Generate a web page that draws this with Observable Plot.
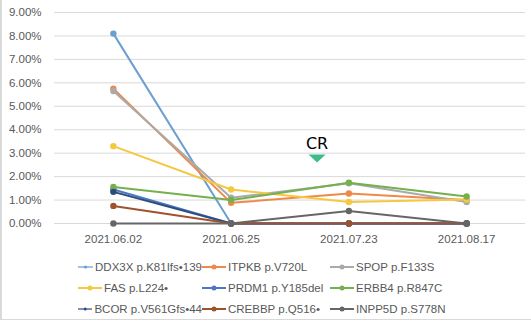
<!DOCTYPE html>
<html>
<head>
<meta charset="utf-8">
<script src="https://cdn.jsdelivr.net/npm/d3@7"></script>
<script src="https://cdn.jsdelivr.net/npm/@observablehq/plot@0.6"></script>
<style>
  html, body { margin: 0; padding: 0; background: #fff; }
  #frame { width: 529px; height: 319px; border-left: 2px solid #d9d9d9; border-bottom: 1px solid #d9d9d9; position: relative; overflow: hidden; }
  #chart { position: absolute; left: -2px; top: 0; }
  #legend { position: absolute; left: 76px; top: 259px; display: grid; grid-template-columns: 124px 128px 160px; row-gap: 5px; font-family: "Liberation Sans", Arial, sans-serif; font-size: 11.5px; color: #595959; }
  .item { display: flex; align-items: center; height: 16px; white-space: nowrap; }
  .sw { width: 24px; height: 10px; margin-right: 2px; }
</style>
</head>
<body>
<div id="frame"><div id="chart"></div><div id="legend"></div></div>
<script>
const dates = ["2021.06.02", "2021.06.25", "2021.07.23", "2021.08.17"];
const names = ["DDX3X p.K81Ifs•139", "ITPKB p.V720L", "SPOP p.F133S", "FAS p.L224•", "PRDM1 p.Y185del", "ERBB4 p.R847C", "BCOR p.V561Gfs•44", "CREBBP p.Q516•", "INPP5D p.S778N"];
const colors = ["#6a9fd2", "#ee8a48", "#aaaaaa", "#f5c842", "#4d77c2", "#74b04e", "#2c4c7e", "#a0522d", "#666666"];
const ddx3x  = [8.10, 0.00, 0.00, 0.00];
const itpkb  = [5.75, 0.88, 1.28, 1.00];
const spop   = [5.65, 1.10, 1.72, 0.92];
const fas    = [3.30, 1.45, 0.92, 1.02];
const prdm1  = [1.45, 0.00, 0.00, 0.00];
const erbb4  = [1.56, 1.00, 1.74, 1.15];
const bcor   = [1.35, 0.00, 0.00, 0.00];
const crebbp = [0.75, 0.00, 0.00, 0.00];
const inpp5d = [0.00, 0.00, 0.53, 0.00];
const seriesValues = [ddx3x, itpkb, spop, fas, prdm1, erbb4, bcor, crebbp, inpp5d];
const yTicks = [0, 1, 2, 3, 4, 5, 6, 7, 8, 9];
const crLabel = "CR";
const crPos = { x: 1.73, y: 2.77, ty: 3.40 };

const rows = [];
names.forEach((n, i) => seriesValues[i].forEach((v, j) => rows.push({ name: n, idx: j, value: v })));

const flatTri = {
  draw(ctx, size) {
    const w = 8.5, h = 8;
    ctx.moveTo(-w, -h / 2);
    ctx.lineTo(w, -h / 2);
    ctx.lineTo(0, h / 2);
    ctx.closePath();
  }
};

const chart = Plot.plot({
  width: 531,
  height: 250,
  marginLeft: 54,
  marginRight: 6,
  marginTop: 12,
  marginBottom: 27,
  style: { fontFamily: "'Liberation Sans', Arial, sans-serif", fontSize: "11.5px", color: "#595959", background: "#fff" },
  x: { domain: [-0.5, 3.5], ticks: [0, 1, 2, 3], tickFormat: i => dates[i], label: null, tickSize: 0, tickPadding: 11 },
  y: { domain: [0, 9], ticks: yTicks, tickFormat: d => d.toFixed(2) + "%", label: null, tickSize: 0, tickPadding: 13 },
  color: { domain: names, range: colors },
  marks: [
    Plot.ruleY(yTicks, { stroke: "#d9d9d9", strokeWidth: 1 }),
    Plot.line(rows, { x: "idx", y: "value", z: "name", stroke: "name", strokeWidth: 2 }),
    Plot.dot(rows, { x: "idx", y: "value", fill: "name", r: 3.2 }),
    Plot.dot([crPos], { x: "x", y: "y", symbol: flatTri, fill: "#3dbb8a", r: 4 }),
    Plot.text([crPos], { x: "x", y: "ty", text: () => crLabel, fill: "#000", fontSize: 16, fontFamily: "'DejaVu Sans', sans-serif" })
  ]
});
document.getElementById("chart").appendChild(chart);

const legend = document.getElementById("legend");
names.forEach((n, i) => {
  const item = document.createElement("div");
  item.className = "item";
  item.innerHTML = `<svg class="sw" viewBox="0 0 24 10"><line x1="0" y1="5" x2="24" y2="5" stroke="${colors[i]}" stroke-width="2"/><circle cx="12" cy="5" r="2.5" fill="${colors[i]}"/></svg><span>${n}</span>`;
  legend.appendChild(item);
});
</script>
</body>
</html>
